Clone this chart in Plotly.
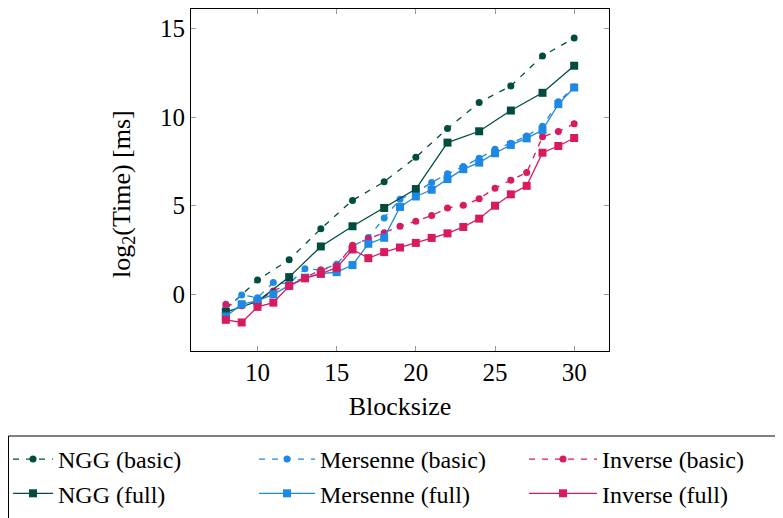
import plotly.graph_objects as go

ngg_x = [8, 10, 12, 14, 16, 18, 20, 22, 24, 26, 28, 30]
ngg_basic = [-0.85, 0.8, 1.95, 3.7, 5.3, 6.35, 7.73, 9.36, 10.82, 11.76, 13.45, 14.46]
ngg_full = [-1.0, -0.4, 0.97, 2.7, 3.84, 4.87, 5.94, 8.56, 9.2, 10.37, 11.37, 12.9]

all_x = list(range(8, 31))
mers_basic = [-0.75, -0.04, -0.19, 0.66, 0.6, 1.44, 1.37, 1.69, 2.7, 3.2, 4.31, 5.37,
              5.75, 6.31, 6.8, 7.21, 7.68, 8.18, 8.52, 8.93, 9.49, 10.86, 11.7]
mers_full = [-1.25, -0.56, -0.37, 0.0, 0.5, 0.94, 1.16, 1.25, 1.65, 2.85, 3.19, 4.93,
             5.52, 5.9, 6.5, 7.06, 7.43, 7.96, 8.43, 8.8, 9.27, 10.73, 11.67]
inv_basic = [-0.56, -0.65, -0.4, 0.19, 0.6, 0.95, 1.37, 1.6, 2.77, 3.13, 3.47, 3.84,
             4.12, 4.44, 4.87, 5.02, 5.39, 5.99, 6.44, 6.87, 8.89, 9.19, 9.62]
inv_full = [-1.44, -1.59, -0.71, -0.47, 0.47, 0.9, 1.16, 1.5, 2.53, 2.04, 2.38, 2.64,
            2.9, 3.18, 3.44, 3.8, 4.27, 5.0, 5.64, 6.12, 7.99, 8.37, 8.82]

C_NGG = "#004D40"
C_MER = "#1E88E5"
C_INV = "#D81B60"
FONT = "Liberation Serif"

# page offset of the figure (body margin)
OFF = 8
W, H = 783 - OFF, 518 - OFF

fig = go.Figure()

def add(name, x, y, color, basic, legend):
    fig.add_trace(go.Scatter(
        x=x, y=y, name=name, mode="lines+markers", legend=legend,
        line=dict(color=color, width=1.3, dash="6px,7px" if basic else "solid"),
        marker=dict(color=color, size=7 if basic else 8,
                    symbol="circle" if basic else "square", line=dict(width=0)),
    ))

add("NGG (basic)", ngg_x, ngg_basic, C_NGG, True, "legend")
add("Mersenne (basic)", all_x, mers_basic, C_MER, True, "legend2")
add("Inverse (basic)", all_x, inv_basic, C_INV, True, "legend3")
add("NGG (full)", ngg_x, ngg_full, C_NGG, False, "legend")
add("Mersenne (full)", all_x, mers_full, C_MER, False, "legend2")
add("Inverse (full)", all_x, inv_full, C_INV, False, "legend3")

axis_common = dict(
    showgrid=False, zeroline=False, showline=True, linecolor="black", linewidth=1.2,
    mirror="allticks", ticks="inside", ticklen=5, tickcolor="#999999", tickwidth=1,
    tickfont=dict(family=FONT, size=25, color="black"),
)

def leg(xpage, iw):
    return dict(
        orientation="v", xref="container", yref="container",
        x=max(0.0, (xpage - OFF) / W), y=1 - (437 - OFF) / H, xanchor="left", yanchor="top",
        borderwidth=0, bgcolor="rgba(0,0,0,0)",
        font=dict(family=FONT, size=24, color="black"),
        traceorder="normal", itemwidth=iw, tracegroupgap=0,
    )

PL, PR, PT, PB = 191, 609, 9, 351  # plot area in page pixels
pw, ph = PR - PL, PB - PT

fig.update_layout(
    width=W, height=H,
    margin=dict(l=PL - OFF, r=W - (PR - OFF), t=PT - OFF, b=H - (PB - OFF), autoexpand=False),
    plot_bgcolor="white", paper_bgcolor="white",
    font=dict(family=FONT, size=25, color="black"),
    xaxis=dict(range=[5.8, 32.2], tickvals=[10, 15, 20, 25, 30], ticklabelstandoff=-1,
               title=dict(text="Blocksize", font=dict(family=FONT, size=26), standoff=11),
               **axis_common),
    yaxis=dict(range=[-3.2, 16.1], tickvals=[0, 5, 10, 15], **axis_common),
    legend=leg(8, 40),
    legend2=leg(254, 56),
    legend3=leg(524, 68),
    showlegend=True,
    annotations=[dict(text="log<sub>2</sub>(Time) [ms]", textangle=-90,
                      xref="paper", yref="paper",
                      x=(123 - PL) / pw, y=(PB - 194) / ph,
                      xanchor="center", yanchor="middle", showarrow=False,
                      font=dict(family=FONT, size=26, color="black"))],
    shapes=[dict(type="rect", xref="paper", yref="paper",
                 x0=(OFF + 0.5 - PL) / pw, x1=(800 - PL) / pw,
                 y0=(PB - 436) / ph, y1=(PB - 540) / ph,
                 line=dict(color="black", width=1), fillcolor="rgba(0,0,0,0)")],
)

fig.write_html("out.html")
